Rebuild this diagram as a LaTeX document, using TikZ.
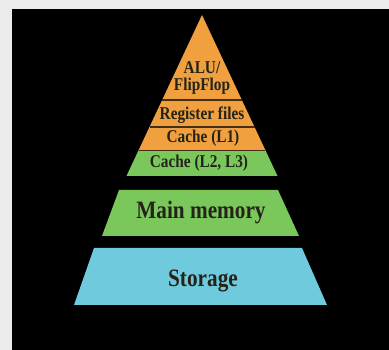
\documentclass[tikz,border=0pt]{standalone}
\usepackage{fontspec}
\newfontfamily\lblfont[FakeStretch=0.85]{Liberation Serif}
\usepackage{tikz}
\usetikzlibrary{positioning}

\definecolor{frame}{RGB}{235,235,235}
\definecolor{lvlorange}{RGB}{240,160,62}
\definecolor{lvlgreen}{RGB}{122,200,92}
\definecolor{lvlblue}{RGB}{112,202,222}
\definecolor{sep}{RGB}{70,45,20}
\definecolor{ink}{RGB}{35,35,25}

\begin{document}
\begin{tikzpicture}[
x=1pt, y=-1pt,
lbl/.style={text=ink, font=\lblfont\bfseries, inner sep=0pt, align=center},
small/.style={lbl, font=\lblfont\bfseries\fontsize{18}{19}\selectfont},
big/.style={lbl, font=\lblfont\bfseries\fontsize{25}{26}\selectfont},
sepline/.style={draw=sep, line width=1.3pt}
]
\useasboundingbox (0,0) rectangle (389,350);
\fill[frame] (0,0) rectangle (389,350);
\fill[black] (12,9) rectangle (389,350);

% top of the pyramid
\fill[lvlorange] (202,15) -- (265.3,150) -- (138.7,150) -- cycle;
\fill[lvlgreen] (138.7,150) -- (265.3,150) -- (277.5,176) -- (126.5,176) -- cycle;
\draw[sepline] (162.1,100) -- (241.9,100);
\draw[sepline] (149.5,127) -- (254.5,127);
\draw[sepline, line width=0.8pt] (138.7,150) -- (265.3,150);

% lower levels
\fill[lvlgreen] (119,190) -- (278,190) -- (299,236) -- (102,236) -- cycle;
\fill[lvlblue] (94,248) -- (302,248) -- (327,305) -- (74,305) -- cycle;

\node[small] (alu) at (202,78) {ALU/\\[-2pt]FlipFlop};
\node[small] (regs) at (202,115) {Register files};
\node[small] (cachei) at (203,138.5) {Cache (L1)};
\node[small] (cacheii) at (199,163) {Cache (L2, L3)};
\node[big] (mainmem) at (201,213) {Main memory};
\node[big] (storage) at (203,281) {Storage};
\end{tikzpicture}
\end{document}
